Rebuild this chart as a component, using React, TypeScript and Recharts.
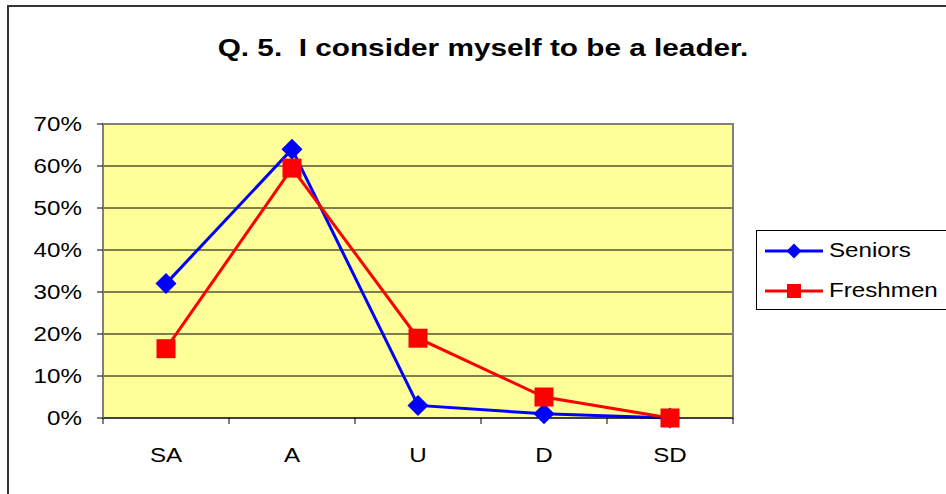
import React from 'react';
import { LineChart, Line, XAxis, YAxis, CartesianGrid, ReferenceArea, Legend } from 'recharts';

const categories = ['SA', 'A', 'U', 'D', 'SD'];
const seniors = [32, 64, 3, 1, 0];
const freshmen = [16.5, 59.5, 19, 5, 0];
const yTicks = [0, 10, 20, 30, 40, 50, 60, 70];
const seriesNames = ['Seniors', 'Freshmen'];
const seriesColors = ['#0000FF', '#FF0000'];
const titleText = 'Q. 5.  I consider myself to be a leader.';

const data = categories.map((cat, i) => ({ cat, Seniors: seniors[i], Freshmen: freshmen[i] }));

const FONT = "'Liberation Sans', Arial, Helvetica, sans-serif";
const STRETCH = 1.24;
const HALF_BAND = 63;
const DIAMOND_HALF = 10.5;
const SQUARE_SIDE = 19;

const Diamond = (props: any) => {
  const { cx, cy } = props;
  if (cx == null || cy == null) return null;
  const h = DIAMOND_HALF;
  return (
    <polygon
      points={`${cx},${cy - h} ${cx + h},${cy} ${cx},${cy + h} ${cx - h},${cy}`}
      fill={seriesColors[0]}
    />
  );
};

const Square = (props: any) => {
  const { cx, cy } = props;
  if (cx == null || cy == null) return null;
  const s = SQUARE_SIDE;
  return <rect x={cx - s / 2} y={cy - s / 2} width={s} height={s} fill={seriesColors[1]} />;
};

const YTick = (props: any) => {
  const { x, y, payload } = props;
  return (
    <text
      transform={`translate(${x},${y}) scale(${STRETCH},1)`}
      textAnchor="end"
      dy="0.36em"
      fontSize={19.5}
      fontFamily={FONT}
      fill="#000"
    >
      {payload.value}%
    </text>
  );
};

const XTick = (props: any) => {
  const { x, y, payload } = props;
  const isLast = payload.value === categories[categories.length - 1];
  return (
    <g>
      <line x1={x - HALF_BAND} x2={x - HALF_BAND} y1={y - 6} y2={y} stroke="#000" />
      {isLast && <line x1={x + HALF_BAND} x2={x + HALF_BAND} y1={y - 6} y2={y} stroke="#000" />}
      <text
        transform={`translate(${x},${y + 38}) scale(${STRETCH},1)`}
        textAnchor="middle"
        fontSize={19.5}
        fontFamily={FONT}
        fill="#000"
      >
        {payload.value}
      </text>
    </g>
  );
};

const LegendBox = () => (
  <svg width={200} height={82} style={{ display: 'block' }}>
    <rect x={0.5} y={0.5} width={240} height={79} fill="#fff" stroke="#000" strokeWidth={1} />
    {seriesNames.map((name, i) => {
      const cy = 21 + i * 40;
      return (
        <g key={name}>
          <line x1={9} x2={67} y1={cy} y2={cy} stroke={seriesColors[i]} strokeWidth={3} />
          {i === 0 ? (
            <polygon points={`38,${cy - 7.5} 45.5,${cy} 38,${cy + 7.5} 30.5,${cy}`} fill={seriesColors[0]} />
          ) : (
            <rect x={31} y={cy - 7} width={14} height={14} fill={seriesColors[1]} />
          )}
          <text
            transform={`translate(73,${cy + 6}) scale(${STRETCH},1)`}
            fontSize={19.5}
            fontFamily={FONT}
            fill="#000"
          >
            {name}
          </text>
        </g>
      );
    })}
  </svg>
);

export default function App() {
  return (
    <div
      style={{
        position: 'fixed',
        left: 0,
        top: 0,
        width: 946,
        height: 494,
        overflow: 'hidden',
        background: '#fff',
        fontFamily: FONT,
      }}
    >
      <div
        style={{
          position: 'absolute',
          left: 7,
          top: 5,
          width: 1000,
          height: 1000,
          border: '2px solid #333',
          boxSizing: 'border-box',
        }}
      />
      <svg width={946} height={494} style={{ position: 'absolute', left: 0, top: 0 }}>
        <text
          transform={`translate(483,56) scale(${STRETCH},1)`}
          textAnchor="middle"
          fontSize={24}
          fontWeight="bold"
          fontFamily={FONT}
          fill="#000"
          style={{ whiteSpace: 'pre' }}
        >
          {titleText}
        </text>
      </svg>
      <div style={{ position: 'absolute', left: 0, top: 0 }}>
        <LineChart width={946} height={494} data={data} margin={{ top: 124, right: 213, bottom: 46, left: 43 }}>
          <CartesianGrid vertical={false} fill="#FFFF99" stroke="#000" strokeWidth={1} fillOpacity={1} />
          <ReferenceArea y1={0} y2={70} fill="none" fillOpacity={0} stroke="#808080" strokeWidth={2} />
          <XAxis
            dataKey="cat"
            scale="band"
            interval={0}
            height={30}
            tickSize={6}
            tickMargin={0}
            tickLine={false}
            axisLine={{ stroke: '#000', strokeWidth: 1 }}
            tick={<XTick />}
          />
          <YAxis
            domain={[0, 70]}
            ticks={yTicks}
            interval={0}
            width={60}
            tickSize={6}
            tickMargin={15}
            tickLine={{ stroke: '#000' }}
            axisLine={{ stroke: '#808080', strokeWidth: 2 }}
            tick={<YTick />}
          />
          <Line
            dataKey="Seniors"
            stroke={seriesColors[0]}
            strokeWidth={3}
            dot={(p: any) => <Diamond key={p.key} cx={p.cx} cy={p.cy} />}
            activeDot={false}
            isAnimationActive={false}
          />
          <Line
            dataKey="Freshmen"
            stroke={seriesColors[1]}
            strokeWidth={3}
            dot={(p: any) => <Square key={p.key} cx={p.cx} cy={p.cy} />}
            activeDot={false}
            isAnimationActive={false}
          />
          <Legend
            layout="vertical"
            align="center"
            verticalAlign="middle"
            wrapperStyle={{ left: 756, top: 230, width: 200, height: 82 }}
            content={() => <LegendBox />}
          />
        </LineChart>
      </div>
    </div>
  );
}
